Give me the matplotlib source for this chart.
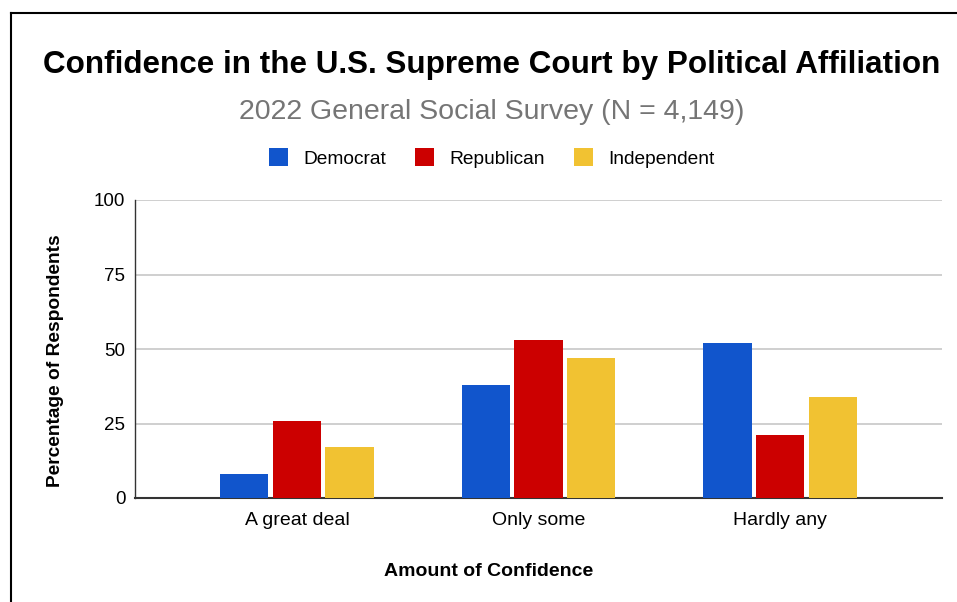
import matplotlib.pyplot as plt
import numpy as np

categories = ['A great deal', 'Only some', 'Hardly any']
parties = ['Democrat', 'Republican', 'Independent']
democrat = [8, 38, 52]
republican = [26, 53, 21]
independent = [17, 47, 34]
colors = ['#1155cc', '#cc0000', '#f1c232']
yticks = [0, 25, 50, 75, 100]

plt.rcParams['font.family'] = ['Liberation Sans', 'DejaVu Sans']

fig = plt.figure(figsize=(9.57, 6.02), dpi=100)
ax = fig.add_axes([135 / 957, 1 - 498 / 602, 807 / 957, 298 / 602])

x = np.arange(len(categories))
w = 0.2
step = 0.218
for i, (name, vals) in enumerate(zip(parties, [democrat, republican, independent])):
    ax.bar(x + (i - 1) * step, vals, w, color=colors[i], label=name, zorder=3)

ax.set_xlim(-0.67, 2.67)
ax.set_ylim(0, 100)
ax.set_yticks(yticks)
ax.set_xticks(x)
ax.set_xticklabels(categories, fontsize=14)
ax.tick_params(axis='y', labelsize=13.5, length=0, pad=7)
ax.tick_params(axis='x', length=0, pad=10)
ax.grid(axis='y', color='#cccccc', linewidth=1.3, zorder=0)
for s in ['top', 'right']:
    ax.spines[s].set_visible(False)
ax.spines['left'].set_color('#333333')
ax.spines['left'].set_linewidth(1)
ax.spines['bottom'].set_color('#333333')
ax.spines['bottom'].set_linewidth(1.5)
ax.set_ylabel('Percentage of Respondents', fontsize=13.8, fontweight='bold')
ax.yaxis.set_label_coords(-71 / 807, 0.46)
ax.set_xlabel('Amount of Confidence', fontsize=14, fontweight='bold')
ax.xaxis.set_label_coords(354 / 807, -65 / 298)

fig.text(492 / 957, 1 - 65 / 602, 'Confidence in the U.S. Supreme Court by Political Affiliation',
         ha='center', va='center', fontsize=22.6, fontweight='bold')
fig.text(492 / 957, 1 - 112 / 602, '2022 General Social Survey (N = 4,149)',
         ha='center', va='center', fontsize=20.5, color='#757575')
fig.legend(loc='center', bbox_to_anchor=(492 / 957, 1 - 158 / 602), ncol=3, frameon=False,
           fontsize=13.8, handlelength=1.0, handleheight=1.0, columnspacing=1.5, handletextpad=0.8)

# outer border on top and left
fig.add_artist(plt.Line2D([11 / 957, 11 / 957], [0, 1 - 13 / 602], color='black', linewidth=1.5))
fig.add_artist(plt.Line2D([11 / 957, 1], [1 - 13 / 602, 1 - 13 / 602], color='black', linewidth=1.5))

fig.savefig('out.png', dpi=100)
